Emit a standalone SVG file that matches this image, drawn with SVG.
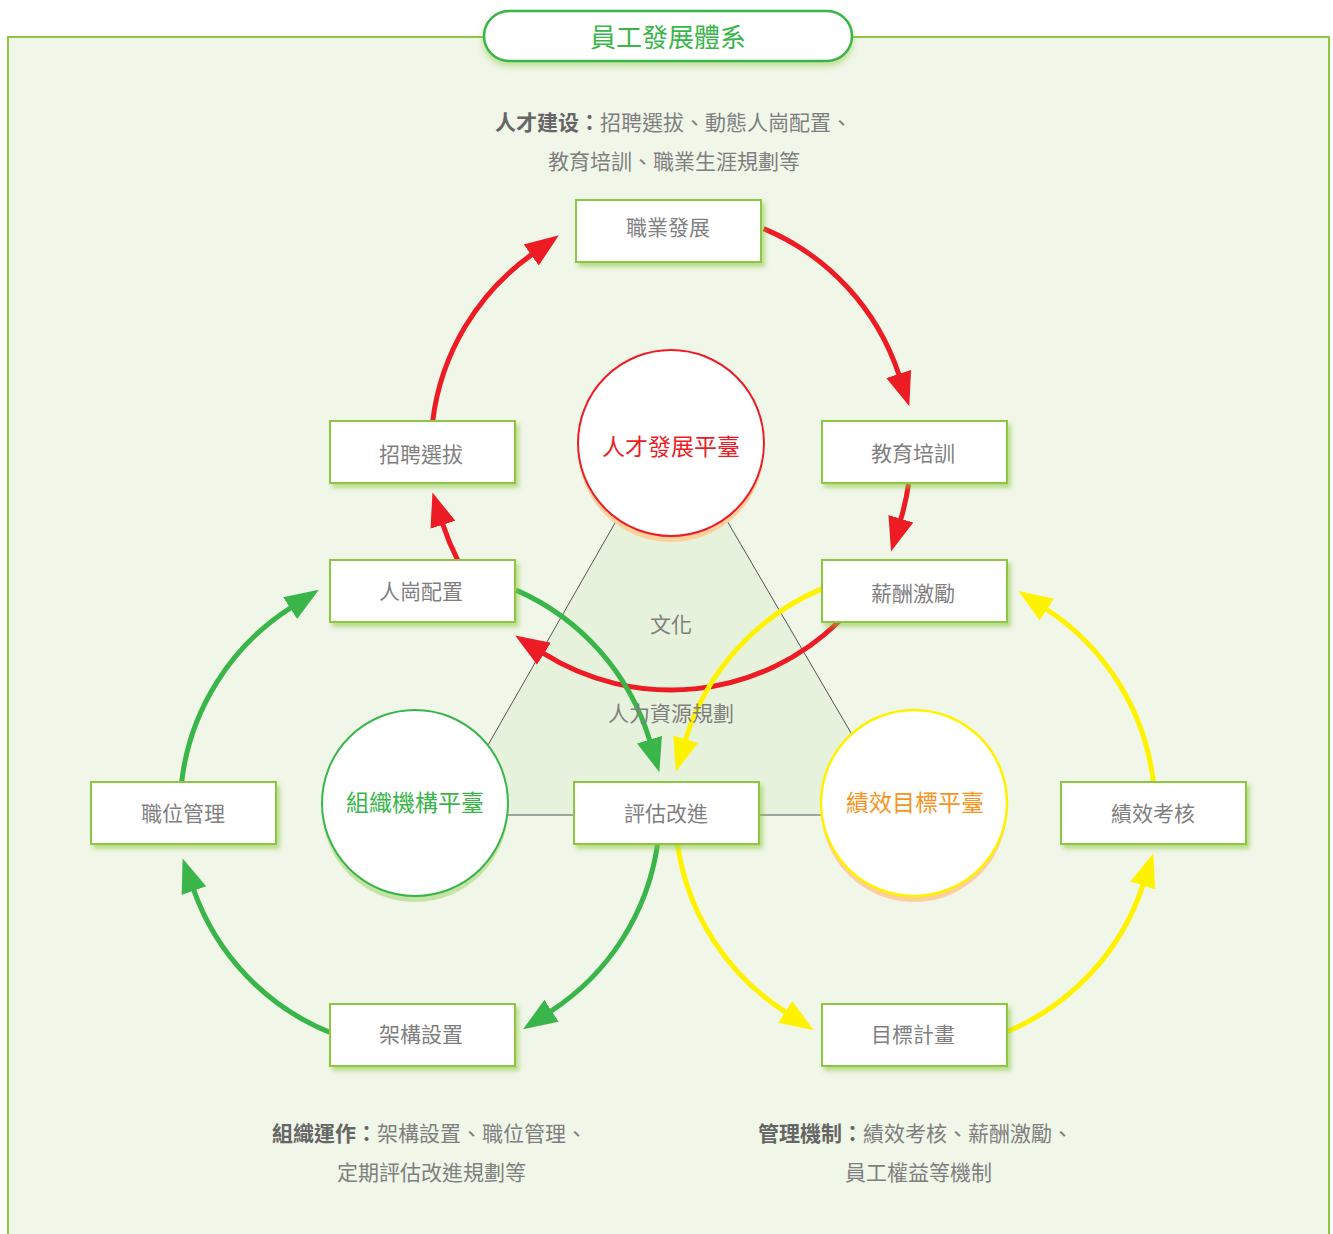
<svg xmlns="http://www.w3.org/2000/svg" width="1333" height="1234" viewBox="0 0 1333 1234">
<defs>
<style>
.box{fill:#fff;stroke:#8dc63f;stroke-width:2;filter:url(#bs)}
.bt{font-family:"Noto Sans CJK TC","Noto Sans CJK SC",sans-serif;font-size:21px;fill:#7f7f7f;text-anchor:middle;dominant-baseline:central}
.ct{font-family:"Noto Sans CJK TC","Noto Sans CJK SC",sans-serif;font-size:23px;text-anchor:middle;dominant-baseline:central}
.desc{font-family:"Noto Sans CJK TC","Noto Sans CJK SC",sans-serif;font-size:21px;fill:#7f7f7f;dominant-baseline:central}
.desc .b{fill:#666;font-weight:bold}
.tri{stroke:#555;stroke-width:1;fill:none}
.r{fill:none;stroke:#ed1c24;stroke-width:5;marker-end:url(#ar)}
.g{fill:none;stroke:#39b54a;stroke-width:5;marker-end:url(#ag)}
.y{fill:none;stroke:#fff200;stroke-width:5;marker-end:url(#ay)}
</style>
<filter id="bs" x="-10%" y="-20%" width="130%" height="150%">
<feDropShadow dx="3" dy="4" stdDeviation="2" flood-color="#8dc63f" flood-opacity="0.55"/>
</filter>
<filter id="ts" x="-10%" y="-30%" width="130%" height="180%">
<feDropShadow dx="0" dy="4" stdDeviation="3" flood-color="#8dc63f" flood-opacity="0.5"/>
</filter>
<marker id="ar" markerUnits="userSpaceOnUse" markerWidth="36" markerHeight="28" viewBox="0 -14 36 28" refX="1" refY="0" orient="auto"><path d="M0,-13 L34,0 L0,13 z" fill="#ed1c24"/></marker>
<marker id="ag" markerUnits="userSpaceOnUse" markerWidth="36" markerHeight="28" viewBox="0 -14 36 28" refX="1" refY="0" orient="auto"><path d="M0,-13 L34,0 L0,13 z" fill="#39b54a"/></marker>
<marker id="ay" markerUnits="userSpaceOnUse" markerWidth="36" markerHeight="28" viewBox="0 -14 36 28" refX="1" refY="0" orient="auto"><path d="M0,-13 L34,0 L0,13 z" fill="#fff200"/></marker>
</defs>

<rect x="8" y="37" width="1321" height="1230" fill="#f0f6e8" stroke="#8dc63f" stroke-width="2"/>

<g id="title">
<rect x="484" y="11" width="368" height="50" rx="25" fill="#fff" stroke="#39b54a" stroke-width="2.5" filter="url(#ts)"/>
<text x="668" y="35" class="ct" style="font-size:26px;fill:#39b54a">員工發展體系</text>
</g>

<g id="triangle">
<polygon points="671,425 448,815 899,815" fill="#e7f2dc" stroke="none"/>
<line x1="671" y1="425" x2="448" y2="815" class="tri"/>
<line x1="671" y1="425" x2="899" y2="815" class="tri"/>
<line x1="448" y1="815" x2="899" y2="815" class="tri"/>
</g>

<g id="circle-talent">
<circle cx="671" cy="449" r="93" fill="#fdcf9b"/>
<circle cx="671" cy="443" r="93" fill="#fff" stroke="#ed1c24" stroke-width="2"/>
<text x="671" y="445" class="ct" fill="#ed1c24">人才發展平臺</text>
</g>
<g id="circle-org">
<circle cx="415" cy="809" r="93" fill="#c6e3a6"/>
<circle cx="415" cy="803" r="93" fill="#fff" stroke="#39b54a" stroke-width="2"/>
<text x="415" y="801" class="ct" fill="#39b54a">組織機構平臺</text>
</g>
<g id="circle-perf">
<circle cx="914" cy="809" r="93" fill="#fdcf9b"/>
<circle cx="914" cy="803" r="93" fill="#fff" stroke="#fff200" stroke-width="2.5"/>
<text x="915" y="801" class="ct" fill="#f7941d">績效目標平臺</text>
</g>

<g id="connectors">
<path class="r" d="M432.7,421.2 A240,240 0 0 1 532,254.4"/>
<path class="r" d="M763.6,228.6 A240,240 0 0 1 899,375"/>
<path class="r" d="M908.5,484.2 A240,240 0 0 1 900.6,519.8"/>
<path class="r" d="M839.2,621.2 A240,240 0 0 1 543.1,653.1"/>
<path class="r" d="M457.7,560.1 A240,240 0 0 1 442.6,523.8"/>
<path class="g" d="M516.1,590.1 A240,240 0 0 1 649.8,740.6"/>
<path class="g" d="M657.5,844.6 A240,240 0 0 1 550.7,1011.3"/>
<path class="g" d="M330.9,1032.8 A240,240 0 0 1 193.6,889.7"/>
<path class="g" d="M181.7,781.6 A240,240 0 0 1 291,607.6"/>
<path class="y" d="M821.6,588.9 A240,240 0 0 0 685.4,740.2"/>
<path class="y" d="M677.6,845.1 A240,240 0 0 0 786,1012.4"/>
<path class="y" d="M1006.8,1031.7 A240,240 0 0 0 1143.1,884.6"/>
<path class="y" d="M1153.4,782 A240,240 0 0 0 1046.1,609"/>
</g>

<g id="node-career"><rect class="box" x="576" y="200" width="185" height="62"/><text class="bt" x="668" y="226">職業發展</text></g>
<g id="node-recruit"><rect class="box" x="330" y="421" width="185" height="62"/><text class="bt" x="421" y="453">招聘選拔</text></g>
<g id="node-training"><rect class="box" x="822" y="421" width="185" height="62"/><text class="bt" x="913" y="452">教育培訓</text></g>
<g id="node-placement"><rect class="box" x="330" y="560" width="185" height="62"/><text class="bt" x="421" y="590">人崗配置</text></g>
<g id="node-salary"><rect class="box" x="822" y="560" width="185" height="62"/><text class="bt" x="913" y="592">薪酬激勵</text></g>
<g id="node-position"><rect class="box" x="91" y="782" width="185" height="62"/><text class="bt" x="183" y="812">職位管理</text></g>
<g id="node-evaluate"><rect class="box" x="574" y="782" width="185" height="62"/><text class="bt" x="666" y="812">評估改進</text></g>
<g id="node-appraisal"><rect class="box" x="1061" y="782" width="185" height="62"/><text class="bt" x="1153" y="812">績效考核</text></g>
<g id="node-structure"><rect class="box" x="330" y="1004" width="185" height="62"/><text class="bt" x="421" y="1033">架構設置</text></g>
<g id="node-goal"><rect class="box" x="822" y="1004" width="185" height="62"/><text class="bt" x="913" y="1033">目標計畫</text></g>

<g id="labels">
<text class="bt" x="671" y="623">文化</text>
<text class="bt" x="671" y="712">人力資源規劃</text>
<text class="desc" x="495" y="121"><tspan class="b">人才建设：</tspan>招聘選拔、動態人崗配置、</text>
<text class="desc" x="548" y="160">教育培訓、職業生涯規劃等</text>
<text class="desc" x="272" y="1132"><tspan class="b">組織運作：</tspan>架構設置、職位管理、</text>
<text class="desc" x="337" y="1171">定期評估改進規劃等</text>
<text class="desc" x="758" y="1132"><tspan class="b">管理機制：</tspan>績效考核、薪酬激勵、</text>
<text class="desc" x="845" y="1171">員工權益等機制</text>
</g>
</svg>
